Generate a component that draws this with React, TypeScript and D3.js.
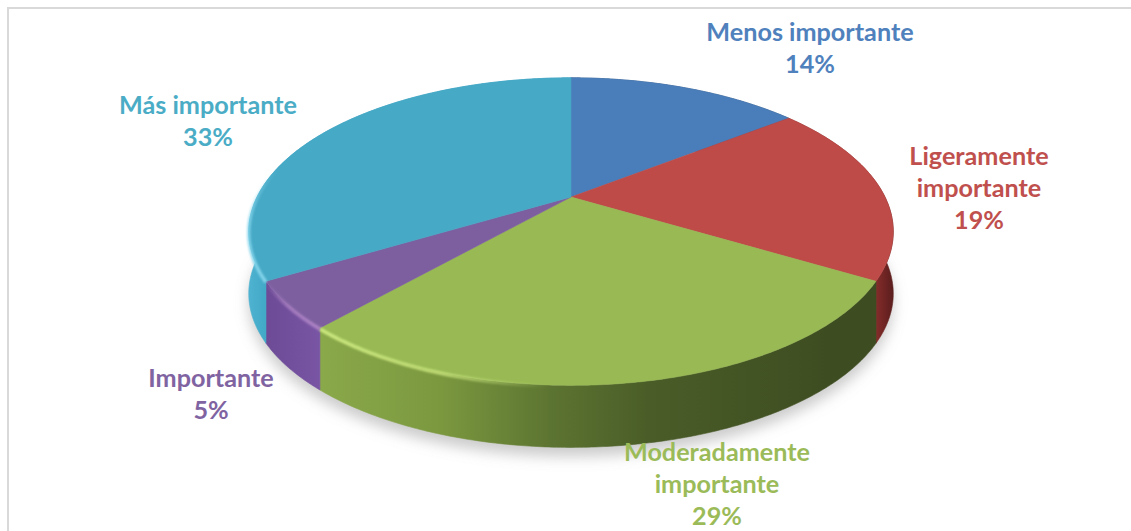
import * as d3 from "d3";

const categories = ["Menos importante", "Ligeramente importante", "Moderadamente importante", "Importante", "Más importante"];
const shares = [14, 19, 29, 5, 33];
const topColors = ["#4a7ebb", "#be4b48", "#98b954", "#7d5fa0", "#46a9c6"];
const textColors = ["#4f81bd", "#c0504d", "#9bbb59", "#8064a2", "#4bacc6"];
const labelLines = [
  ["Menos importante", "14%"],
  ["Ligeramente", "importante", "19%"],
  ["Moderadamente", "importante", "29%"],
  ["Importante", "5%"],
  ["Más importante", "33%"],
];
const labelCentres = [[810, 41], [979, 165], [717, 461], [211, 387], [208, 114]];

const WIDTH = 1131;
const HEIGHT = 531;
const APEX_X = 571;
const APEX_Y = 197;
const TILT = 0.225;
const SWAY = 0.038;
const DEPTH = 62;

// The disc lies on a plane tilted away from the viewer: the far rim is foreshortened,
// and a slight sideways turn opens the right half at the cost of the left.
const xScale = d3.scaleLinear().domain([-1, 1]).range([APEX_X - 314, APEX_X + 314]);
const yScale = d3.scaleLinear().domain([-1, 1]).range([APEX_Y + 146, APEX_Y - 146]);
const rim = (pieAngle: number, drop = 0): [number, number] => {
  const angle = pieAngle + SWAY * Math.sin(pieAngle);
  const w = 1 + TILT * Math.cos(angle);
  return [xScale(Math.sin(angle) / w), yScale(Math.cos(angle) / w) + drop];
};
const rimPoints = (a0: number, a1: number, drop = 0) => {
  const n = Math.max(2, Math.ceil(Math.abs(a1 - a0) / 0.01));
  return d3.range(n + 1).map((i) => rim(a0 + ((a1 - a0) * i) / n, drop));
};
const line = d3.line();

const slices = d3.pie<number>().sort(null).startAngle(0).endAngle(2 * Math.PI)(shares);

const outline = (drop: number) => line(rimPoints(0, 2 * Math.PI, drop)) + "Z";
const topFace = (a0: number, a1: number) =>
  line([[APEX_X, APEX_Y], ...rimPoints(a0, a1)]) + "Z";
const sideFace = (a0: number, a1: number) =>
  line([...rimPoints(a0, a1), ...rimPoints(a1, a0, DEPTH)]) + "Z";

type Stop = [number, string];
const sideShades: Stop[][] = [
  [[0, "#3a6496"], [1, "#2a4a70"]],
  [[0.82, "#7d2d2b"], [0.97, "#8a2f2d"], [1, "#5a1d1c"]],
  [[0.11, "#8aa94a"], [0.3, "#7b983f"], [0.47, "#5c7431"], [0.62, "#4a5d28"], [0.9, "#3e4d21"]],
  [[0.03, "#6d4b96"], [0.12, "#7a56a6"]],
  [[0, "#4fb3d1"], [0.05, "#37a0bf"]],
];
// Lit bevel along the near rim: it starts bright at one end of a slice and fades along the arc.
const bevels = [
  { id: "bevel-green", slice: 2, from: 1, to: 0.62, color: "#cdea80", start: 1 },
  { id: "bevel-purple", slice: 3, from: 0, to: 1, color: "#b388c8", start: 0.9 },
  { id: "bevel-cyan", slice: 4, from: 0, to: 0.36, color: "#86d6ec", start: 0.95 },
];

export default function App() {
  const bevelPaths = bevels.map((b) => {
    const s = slices[b.slice];
    const span = s.endAngle - s.startAngle;
    return { ...b, pts: rimPoints(s.startAngle + span * b.from, s.startAngle + span * b.to) };
  });
  return (
    <svg
      width={WIDTH}
      height={HEIGHT}
      viewBox={`0 0 ${WIDTH} ${HEIGHT}`}
      style={{ position: "absolute", left: 0, top: 0, background: "#fff" }}
    >
      <defs>
        <filter id="pie-shadow" x="-10%" y="-10%" width="120%" height="130%">
          <feGaussianBlur stdDeviation="7" />
        </filter>
        <filter id="soft" filterUnits="userSpaceOnUse" x={0} y={0} width={WIDTH} height={HEIGHT}>
          <feGaussianBlur stdDeviation="1.2" />
        </filter>
        {sideShades.map((stops, i) => (
          <linearGradient key={i} id={`side-${i}`} gradientUnits="userSpaceOnUse" x1={248} x2={893} y1={0} y2={0}>
            {stops.map(([o, c]) => (
              <stop key={o} offset={o} stopColor={c} />
            ))}
          </linearGradient>
        ))}
        {bevelPaths.map((b) => {
          const first = b.pts[0];
          const last = b.pts[b.pts.length - 1];
          return (
            <linearGradient key={b.id} id={b.id} gradientUnits="userSpaceOnUse" x1={first[0]} y1={first[1]} x2={last[0]} y2={last[1]}>
              <stop offset={0} stopColor={b.color} stopOpacity={b.start} />
              <stop offset={0.55} stopColor={b.color} stopOpacity={b.start * 0.8} />
              <stop offset={1} stopColor={b.color} stopOpacity={0} />
            </linearGradient>
          );
        })}
      </defs>

      <path d={`M8 ${HEIGHT}V8H${WIDTH}`} fill="none" stroke="#d9d9d9" strokeWidth={2} />

      <path d={outline(DEPTH + 9)} fill="#8c8c8c" fillOpacity={0.45} filter="url(#pie-shadow)" />

      {slices.map((s, i) => (
        <path key={`side-${i}`} d={sideFace(s.startAngle, s.endAngle)} fill={`url(#side-${i})`} stroke={`url(#side-${i})`} strokeWidth={0.6} />
      ))}

      {slices.map((s, i) => (
        <path key={`top-${i}`} d={topFace(s.startAngle, s.endAngle)} fill={topColors[i]} stroke={topColors[i]} strokeWidth={0.5} />
      ))}

      {bevelPaths.map((b) => (
        <path
          key={b.id}
          d={line(b.pts) ?? ""}
          fill="none"
          stroke={`url(#${b.id})`}
          strokeWidth={3.5}
          filter="url(#soft)"
          transform="translate(0,1)"
        />
      ))}

      {labelLines.map((rows, i) => (
        <text
          key={categories[i]}
          fontFamily="Lato, 'Open Sans', sans-serif"
          fontWeight={700}
          fontSize={25.2}
          fill={textColors[i]}
          textAnchor="middle"
        >
          {rows.map((row, r) => (
            <tspan key={r} x={labelCentres[i][0]} y={labelCentres[i][1] + r * 32}>
              {row}
            </tspan>
          ))}
        </text>
      ))}
    </svg>
  );
}
